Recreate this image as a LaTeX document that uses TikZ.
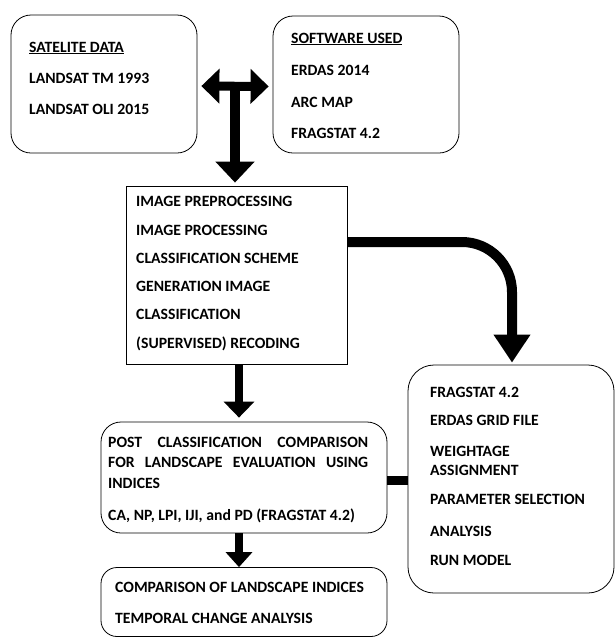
\documentclass[tikz,border=0pt]{standalone}
\usepackage{fontspec}
\setmainfont{Carlito}
\usetikzlibrary{arrows.meta}
\begin{document}
\begin{tikzpicture}[x=1pt,y=-1pt,
  rbox/.style={draw, line width=0.8pt, rounded corners=20pt, inner sep=0pt},
  sbox/.style={draw, line width=0.8pt, inner sep=0pt},
  txt/.style={anchor=base west, inner sep=0pt, font=\bfseries\fontsize{15.7}{18}\selectfont},
]
\useasboundingbox (0,0) rectangle (615,638);
% boxes
\node[rbox, minimum width=186pt, minimum height=138pt] (sat) at (104,84) {};
\node[rbox, minimum width=186pt, minimum height=137pt] (soft) at (366,84.5) {};
\node[sbox, minimum width=221pt, minimum height=178pt] (proc) at (236.5,275) {};
\node[rbox, rounded corners=26pt, minimum width=206pt, minimum height=228pt] (frag) at (511,479) {};
\node[rbox, minimum width=286pt, minimum height=111pt] (post) at (244,477.5) {};
\node[rbox, rounded corners=16pt, minimum width=286pt, minimum height=69pt] (comp) at (244,602) {};
% texts
\node[txt] (t1) at (29,52) {\underline{SATELITE DATA}};
\node[txt] (t2) at (29,83) {LANDSAT TM 1993};
\node[txt] (t3) at (29,114) {LANDSAT OLI 2015};
\node[txt] (s1) at (291,43) {\underline{SOFTWARE USED}};
\node[txt] (s2) at (291,75) {ERDAS 2014};
\node[txt] (s3) at (291,107) {ARC MAP};
\node[txt] (s4) at (291,138) {FRAGSTAT 4.2};
\node[txt] (p1) at (136,206) {IMAGE PREPROCESSING};
\node[txt] (p2) at (136,235) {IMAGE PROCESSING};
\node[txt] (p3) at (136,263) {CLASSIFICATION SCHEME};
\node[txt] (p4) at (136,291) {GENERATION IMAGE};
\node[txt] (p5) at (136,319) {CLASSIFICATION};
\node[txt] (p6) at (136,348) {(SUPERVISED) RECODING};
\node[txt] (f1) at (430,397) {FRAGSTAT 4.2};
\node[txt] (f2) at (430,425) {ERDAS GRID FILE};
\node[txt] (f3) at (430,456) {WEIGHTAGE};
\node[txt] (f4) at (430,475) {ASSIGNMENT};
\node[txt] (f5) at (430,504) {PARAMETER SELECTION};
\node[txt] (f6) at (430,536) {ANALYSIS};
\node[txt] (f7) at (430,565) {RUN MODEL};
\node[txt] (q1) at (108,447) {\makebox[260pt][s]{POST CLASSIFICATION COMPARISON}};
\node[txt] (q2) at (108,467) {\makebox[260pt][s]{FOR LANDSCAPE EVALUATION USING}};
\node[txt] (q3) at (108,488) {INDICES};
\node[txt] (q4) at (108,520) {CA, NP, LPI, IJI, and PD (FRAGSTAT 4.2)};
\node[txt] (c1) at (115,592) {COMPARISON OF LANDSCAPE INDICES};
\node[txt] (c2) at (115,623) {TEMPORAL CHANGE ANALYSIS};
% connectors
\coordinate (tj) at (235,84);
\draw[line width=9pt, {Triangle[length=18pt,width=34pt]}-{Triangle[length=18pt,width=34pt]}]
  ([shift={(4,2)}]sat.east) -- ([shift={(-4,2)}]soft.west);
\draw[line width=10pt, -{Triangle[length=21pt,width=38pt]}, shorten >=3pt]
  (tj) -- (tj |- proc.north);
\draw[line width=10pt, -{Triangle[length=28pt,width=35pt]}, shorten >=2pt]
  (proc.east |- 0,242) -- (462,242) arc[start angle=-90, end angle=0, radius=50] -- (512,335) -- (512 ,0 |- frag.north);
\draw[line width=8pt, -{Triangle[length=16pt,width=30pt]}, shorten >=4pt]
  ([xshift=2.5pt]proc.south) -- ([xshift=2.5pt]proc.south |- post.north);
\draw[line width=8pt, -{Triangle[length=15pt,width=26pt]}, shorten >=0pt]
  ([xshift=-5pt]post.south) -- ([xshift=-5pt]post.south |- comp.north);
\draw[line width=9pt] (post.east |- 0,480) -- (frag.west |- 0,480);
\end{tikzpicture}
\end{document}
